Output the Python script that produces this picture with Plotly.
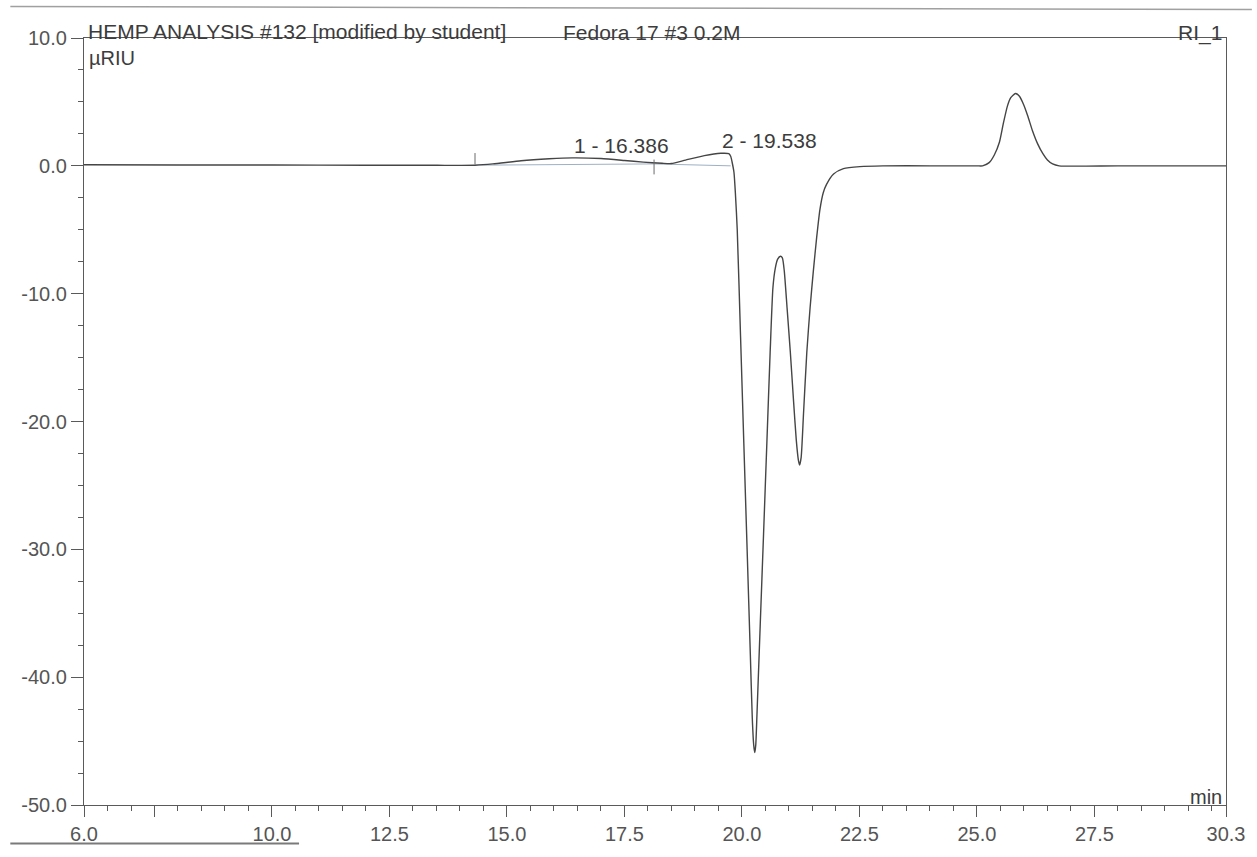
import plotly.graph_objects as go

# ---- RI detector trace (retention time in min, signal in µRIU) ----
time_min = [
    6.0, 8.0, 10.0, 12.0, 13.5, 14.32, 14.7, 15.3, 15.9, 16.39, 17.0, 17.5,
    17.9, 18.3, 18.5, 18.8, 19.2, 19.55, 19.72, 19.76, 19.79, 19.83, 19.86,
    19.90, 19.97, 20.04, 20.11, 20.18, 20.22, 20.25, 20.273, 20.294, 20.32,
    20.39, 20.46, 20.53, 20.60, 20.66, 20.71, 20.76, 20.82, 20.86, 20.90,
    20.96, 21.03, 21.10, 21.155, 21.20, 21.226, 21.26, 21.31, 21.38, 21.45,
    21.52, 21.59, 21.66, 21.73, 21.80, 21.95, 22.16, 22.51, 23.0, 24.0, 25.0,
    25.12, 25.26, 25.37, 25.48, 25.56, 25.65, 25.72, 25.82, 25.90, 25.99,
    26.08, 26.18, 26.29, 26.40, 26.50, 26.61, 26.75, 28.0, 30.3,
]
signal_uriu = [
    0.08, 0.07, 0.06, 0.05, 0.04, 0.05, 0.15, 0.40, 0.55, 0.62, 0.57, 0.42,
    0.29, 0.20, 0.18, 0.45, 0.80, 0.98, 0.95, 0.75, 0.30, -0.5, -2.1,
    -5.0, -13.3, -21.7, -30.0, -38.4, -43.2, -45.3, -45.9, -45.3, -42.9,
    -35.8, -28.8, -21.7, -14.6, -9.5, -8.0, -7.3, -7.07, -7.2, -8.2,
    -11.1, -14.6, -18.5, -21.4, -23.0, -23.4, -22.8, -19.4, -14.6, -11.1,
    -8.2, -5.6, -3.4, -2.1, -1.45, -0.64, -0.22, -0.06, 0.0, 0.0, 0.0,
    0.0, 0.25, 0.85, 1.87, 3.28, 4.69, 5.33, 5.66, 5.46, 4.82,
    3.92, 2.77, 1.74, 0.97, 0.46, 0.15, 0.0, 0.0, 0.0,
]

# ---- integrated peaks ----
peak_numbers = [1, 2]
peak_rt = [16.386, 19.538]
peak_height = [0.62, 0.98]

# integration baselines (start/end time and level)
baseline_t = [[14.32, 18.13], [18.13, 19.76]]
baseline_v = [[0.05, 0.15], [0.15, 0.0]]

# peak delimiter marks (time, lower level, upper level)
delim_t = [14.32, 18.13]
delim_lo = [0.1, -0.67]
delim_hi = [1.0, 0.49]

# ---- axis labelling ----
x_tickvals = [6.0, 7.5, 10.0, 12.5, 15.0, 17.5, 20.0, 22.5, 25.0, 27.5, 30.3]
x_ticktext = ["6.0", "", "10.0", "12.5", "15.0", "17.5", "20.0", "22.5",
              "25.0", "27.5", "30.3"]
y_tickvals = [10.0, 0.0, -10.0, -20.0, -30.0, -40.0, -50.0]

W, H = 1257, 857
L, R, T, B = 84, 26, 38, 40
PW, PH = W - L - R, H - T - B

FONT = "Liberation Sans, Arial, Helvetica, sans-serif"
INK = "#3c3c3c"
AXIS = "#5a5a5a"


def px(xp):
    return (xp - L) / PW


def py(yp):
    return (H - B - yp) / PH


fig = go.Figure()

# integration baselines
for bt, bv in zip(baseline_t, baseline_v):
    fig.add_trace(go.Scatter(x=bt, y=bv, mode="lines",
                             line=dict(color="#9fb0c4", width=1),
                             hoverinfo="skip", showlegend=False))

# chromatogram
fig.add_trace(go.Scatter(x=time_min, y=signal_uriu, mode="lines",
                         line=dict(color="#454545", width=1.4, shape="spline",
                                   smoothing=0.6),
                         showlegend=False, name="RI_1"))

# delimiter marks
for t, lo, hi in zip(delim_t, delim_lo, delim_hi):
    fig.add_trace(go.Scatter(x=[t, t], y=[lo, hi], mode="lines",
                             line=dict(color="#6a6a6a", width=1),
                             hoverinfo="skip", showlegend=False))

annotations = []
for n, rt, h in zip(peak_numbers, peak_rt, peak_height):
    annotations.append(dict(x=rt, y=h, xref="x", yref="y",
                            text=f"{n} - {rt:.3f}", showarrow=False,
                            xanchor="left", yanchor="bottom", yshift=-1,
                            font=dict(family=FONT, size=21, color=INK)))

annotations += [
    dict(x=px(86), y=py(31), xref="paper", yref="paper",
         text="HEMP ANALYSIS #132 [modified by student]", showarrow=False,
         xanchor="left", yanchor="middle",
         font=dict(family=FONT, size=21, color=INK)),
    dict(x=px(563), y=py(32), xref="paper", yref="paper",
         text="Fedora 17 #3 0.2M", showarrow=False,
         xanchor="left", yanchor="middle",
         font=dict(family=FONT, size=21, color=INK)),
    dict(x=px(1229), y=py(33), xref="paper", yref="paper",
         text="RI_1", showarrow=False,
         xanchor="right", yanchor="middle",
         font=dict(family=FONT, size=21, color=INK)),
    dict(x=px(87), y=py(58), xref="paper", yref="paper",
         text="µRIU", showarrow=False,
         xanchor="left", yanchor="middle",
         font=dict(family=FONT, size=20, color=INK)),
    dict(x=px(1229), y=py(809), xref="paper", yref="paper",
         text="min", showarrow=False,
         xanchor="right", yanchor="middle",
         font=dict(family=FONT, size=20, color=INK)),
]

shapes = [
    # page rule above the report header
    dict(type="line", xref="paper", yref="paper",
         x0=px(10), x1=px(1257), y0=py(6), y1=py(9),
         line=dict(color="#a0a0a0", width=1.5)),
    # page edge at the bottom
    dict(type="line", xref="paper", yref="paper",
         x0=px(10), x1=px(300), y0=py(856), y1=py(856),
         line=dict(color="#7a7a7a", width=2)),
]

fig.update_layout(
    width=W, height=H,
    margin=dict(l=L, r=R, t=T, b=B, pad=0),
    paper_bgcolor="white", plot_bgcolor="white",
    annotations=annotations, shapes=shapes,
    showlegend=False,
    font=dict(family=FONT, size=20, color="#555555"),
)

fig.update_xaxes(
    range=[6.0, 30.3], showgrid=False, zeroline=False,
    showline=True, linecolor=AXIS, linewidth=1.3, mirror=True,
    ticks="outside", ticklen=11, tickwidth=1.2, tickcolor=AXIS,
    tickmode="array", tickvals=x_tickvals, ticktext=x_ticktext,
    tickfont=dict(family=FONT, size=20, color="#555555"),
    minor=dict(tick0=6.0, dtick=0.5, ticks="outside", ticklen=5,
               tickwidth=1, tickcolor=AXIS, showgrid=False),
)
fig.update_yaxes(
    range=[-50.0, 10.0], showgrid=False, zeroline=False,
    showline=True, linecolor=AXIS, linewidth=1.3, mirror=True,
    ticks="outside", ticklen=12, tickwidth=1.2, tickcolor=AXIS,
    tickmode="array", tickvals=y_tickvals,
    ticktext=[f"{v:.1f}" for v in y_tickvals],
    tickfont=dict(family=FONT, size=20, color="#555555"),
    minor=dict(tick0=0.0, dtick=2.5, ticks="outside", ticklen=5,
               tickwidth=1, tickcolor=AXIS, showgrid=False),
)

fig.write_html("out.html")
